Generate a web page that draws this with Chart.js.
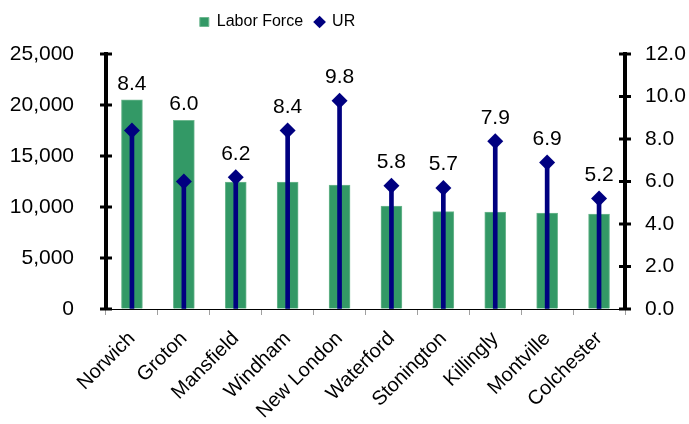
<!DOCTYPE html>
<html>
<head>
<meta charset="utf-8">
<script src="https://cdn.jsdelivr.net/npm/chart.js@4"></script>
<style>
  html, body { margin: 0; padding: 0; background: #fff; }
  #wrap { width: 689px; height: 424px; }
</style>
</head>
<body>
<div id="wrap"><canvas id="chart"></canvas></div>
<script>
const towns = ['Norwich', 'Groton', 'Mansfield', 'Windham', 'New London', 'Waterford', 'Stonington', 'Killingly', 'Montville', 'Colchester'];
const laborForce = [20500, 18500, 12450, 12450, 12150, 10100, 9550, 9500, 9400, 9300];   // left axis
const urRate = [8.4, 6.0, 6.2, 8.4, 9.8, 5.8, 5.7, 7.9, 6.9, 5.2];                      // right axis, %
const leftTicks = [0, 5000, 10000, 15000, 20000, 25000];
const rightTicks = [0, 2, 4, 6, 8, 10, 12];

const green = '#339966';
const navy = '#000080';
const font = "'Liberation Sans', Arial, sans-serif";

// value labels above the higher of bar / diamond
const urLabels = {
    id: 'urLabels',
    afterDatasetsDraw(chart) {
        const ctx = chart.ctx;
        const bars = chart.getDatasetMeta(0).data;
        const pts = chart.getDatasetMeta(2).data;
        ctx.save();
        ctx.font = '21px ' + font;
        ctx.fillStyle = '#000';
        ctx.textAlign = 'center';
        ctx.textBaseline = 'alphabetic';
        urRate.forEach((v, i) => {
            const top = Math.min(bars[i].y, pts[i].y - 7.5);
            ctx.fillText(v.toFixed(1), pts[i].x, top - 10);
        });
        ctx.restore();
    }
};

// small cross ticks on the two value axes
const crossTicks = {
    id: 'crossTicks',
    afterDraw(chart) {
        const ctx = chart.ctx;
        ctx.save();
        ctx.strokeStyle = '#000';
        ctx.lineWidth = 3;
        [['y', chart.chartArea.left], ['y1', chart.chartArea.right]].forEach(([id, x]) => {
            const scale = chart.scales[id];
            scale.ticks.forEach(t => {
                const py = scale.getPixelForValue(t.value);
                ctx.beginPath();
                ctx.moveTo(x - 6, py);
                ctx.lineTo(x + 6, py);
                ctx.stroke();
            });
        });
        ctx.restore();
    }
};

const chart = new Chart(document.getElementById('chart'), {
    type: 'bar',
    data: {
        labels: towns,
        datasets: [
            {
                label: 'Labor Force',
                data: laborForce,
                yAxisID: 'y',
                backgroundColor: green,
                borderColor: '#6fb890',
                borderWidth: 1,
                barThickness: 21,
                grouped: false,
                pointStyle: 'rect',
                order: 2
            },
            {
                label: 'UR stem',
                data: urRate,
                yAxisID: 'y1',
                backgroundColor: navy,
                barThickness: 4,
                grouped: false,
                order: 1
            },
            {
                type: 'line',
                label: 'UR',
                data: urRate,
                yAxisID: 'y1',
                showLine: false,
                pointStyle: 'rectRot',
                pointRadius: 8,
                pointHoverRadius: 8,
                backgroundColor: navy,
                borderColor: navy,
                borderWidth: 0,
                order: 0
            }
        ]
    },
    options: {
        responsive: true,
        maintainAspectRatio: false,
        animation: false,
        layout: { padding: { left: 2, right: 2, top: 2, bottom: 0 } },
        plugins: {
            legend: {
                position: 'top',
                labels: {
                    usePointStyle: true,
                    boxWidth: 9,
                    boxHeight: 9,
                    padding: 12,
                    color: '#000',
                    font: { family: font, size: 16 },
                    filter: item => item.text !== 'UR stem',
                    sort: (a, b) => a.datasetIndex - b.datasetIndex
                }
            },
            tooltip: { enabled: false }
        },
        scales: {
            x: {
                border: { display: true, color: '#000', width: 1 },
                grid: { display: true, drawOnChartArea: false, drawTicks: true, tickLength: 6, color: '#a0a0a0', offset: true },
                ticks: {
                    color: '#000',
                    font: { family: font, size: 20 },
                    minRotation: 45,
                    maxRotation: 45,
                    padding: 12
                },
                afterFit: s => { s.paddingLeft = 0; s.paddingRight = 0; s.height = 115; }
            },
            y: {
                position: 'left',
                min: 0,
                max: 25000,
                afterBuildTicks: s => { s.ticks = leftTicks.map(v => ({ value: v })); },
                border: { display: true, color: '#000', width: 4 },
                grid: { display: true, drawOnChartArea: false, drawTicks: false },
                ticks: {
                    color: '#000',
                    font: { family: font, size: 21 },
                    padding: 32,
                    callback: v => v.toLocaleString('en-US')
                },
                afterFit: s => { s.width = 104; s.paddingTop = 0; s.paddingBottom = 0; }
            },
            y1: {
                position: 'right',
                min: 0,
                max: 12,
                afterBuildTicks: s => { s.ticks = rightTicks.map(v => ({ value: v })); },
                border: { display: true, color: '#000', width: 4 },
                grid: { display: true, drawOnChartArea: false, drawTicks: false },
                ticks: {
                    color: '#000',
                    font: { family: font, size: 21 },
                    padding: 20,
                    callback: v => v.toFixed(1)
                },
                afterFit: s => { s.width = 62; s.paddingTop = 0; s.paddingBottom = 0; }
            }
        }
    },
    plugins: [urLabels, crossTicks]
});

// leave a gap under the legend and pull it left of centre, like the original
const legendFit = chart.legend.fit;
chart.legend.fit = function() {
    legendFit.call(this);
    this.height += 14;
    this.lineWidths[0] += 134;
};
chart.update();
</script>
</body>
</html>
